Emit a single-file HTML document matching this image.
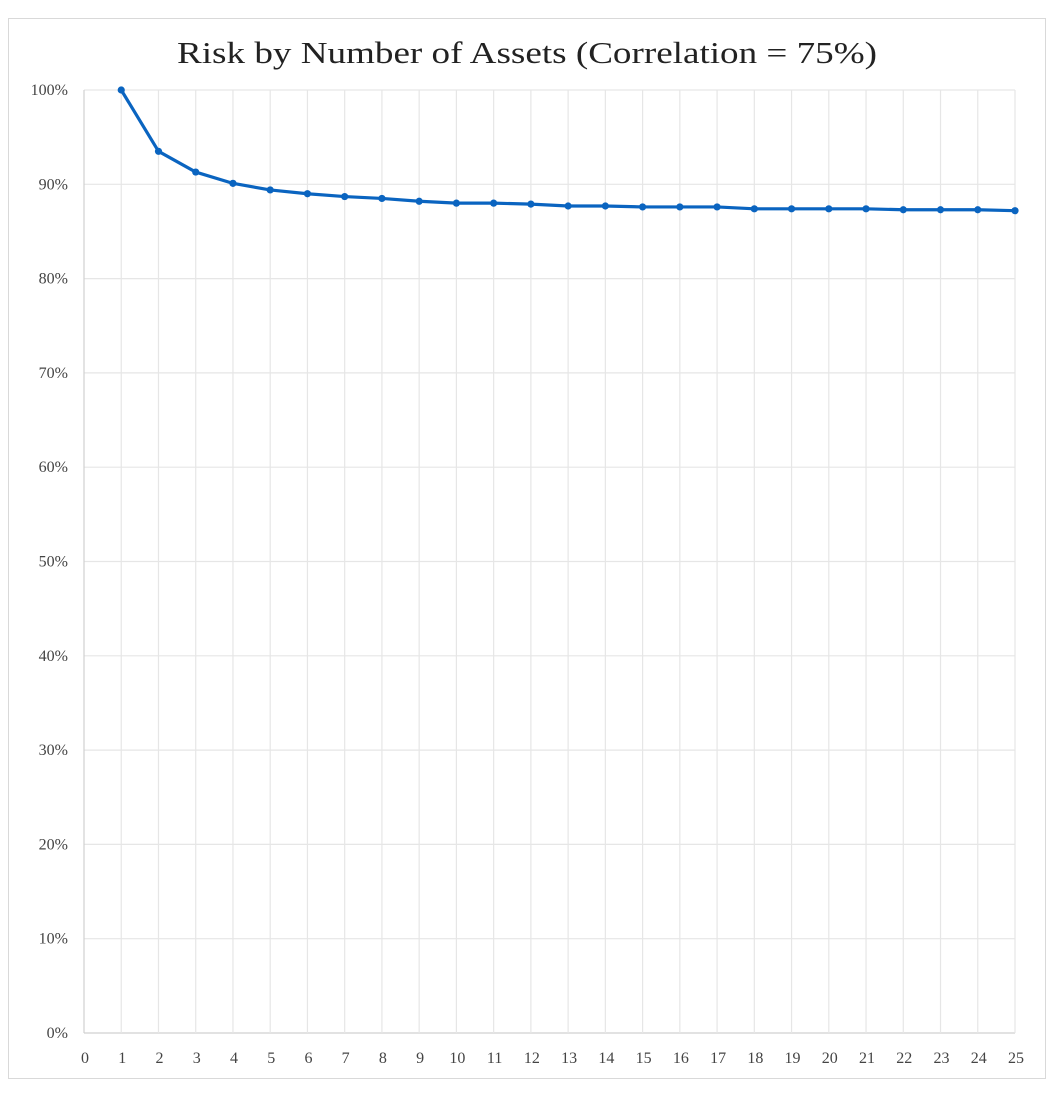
<!DOCTYPE html>
<html><head><meta charset="utf-8"><style>
html,body{margin:0;padding:0;background:#fff;}
svg{display:block;}
text{font-family:"Liberation Serif",serif;fill:#444;}
</style></head><body>
<svg id="chart" width="1058" height="1102">
<rect x="8.5" y="18.5" width="1037" height="1060" fill="#fff" stroke="#d9d9d9"/>
<text x="177" y="63" textLength="700" lengthAdjust="spacingAndGlyphs" font-size="31" style="fill:#222">Risk by Number of Assets (Correlation = 75%)</text>
<g id="grid"></g><g id="axes"></g><g id="series"></g>
</svg>
<script>
const categories=[1,2,3,4,5,6,7,8,9,10,11,12,13,14,15,16,17,18,19,20,21,22,23,24,25];
const riskValues=[100,93.5,91.3,90.1,89.4,89.0,88.7,88.5,88.2,88.0,88.0,87.9,87.7,87.7,87.6,87.6,87.6,87.4,87.4,87.4,87.4,87.3,87.3,87.3,87.2];
const yTicks=[0,10,20,30,40,50,60,70,80,90,100];
const xTicks=[0,1,2,3,4,5,6,7,8,9,10,11,12,13,14,15,16,17,18,19,20,21,22,23,24,25];
const NS="http://www.w3.org/2000/svg";
const X0=84,X1=1015,Y0=1033,Y1=90;
function xs(v){return X0+(X1-X0)*v/25;}
function ys(v){return Y0-(Y0-Y1)*v/100;}
function mk(tag,attrs,parent){const e=document.createElementNS(NS,tag);for(const k in attrs)e.setAttribute(k,attrs[k]);parent.appendChild(e);return e;}
const grid=document.getElementById('grid'),axes=document.getElementById('axes'),series=document.getElementById('series');
yTicks.forEach(t=>{
  const l=mk('line',{x1:X0,x2:X1,y1:ys(t),y2:ys(t),stroke:t===0?'#d0d0d0':'#e6e6e6','stroke-width':1.2},grid);
  
  
  const tx=mk('text',{x:68,y:ys(t)+5,'text-anchor':'end','font-size':16},axes);
  tx.textContent=t+'%';
  
  
});
xTicks.forEach(t=>{
  const l=mk('line',{x1:xs(t),x2:xs(t),y1:Y1,y2:Y0,stroke:t===0?'#d0d0d0':'#e6e6e6','stroke-width':1.2},grid);
  
  
  const tx=mk('text',{x:xs(t)+1,y:1063,'text-anchor':'middle','font-size':16},axes);
  tx.textContent=t;
  
  
});
const pts=categories.map((c,i)=>xs(c)+','+ys(riskValues[i])).join(' ');
const line=mk('polyline',{points:pts,fill:'none',stroke:'#0a64c0','stroke-width':3.2,'stroke-linejoin':'round'},series);


categories.forEach((c,i)=>{
  const p=mk('circle',{cx:xs(c),cy:ys(riskValues[i]),r:3.6,fill:'#0a64c0'},series);
  
  
});
</script>
</body></html>
